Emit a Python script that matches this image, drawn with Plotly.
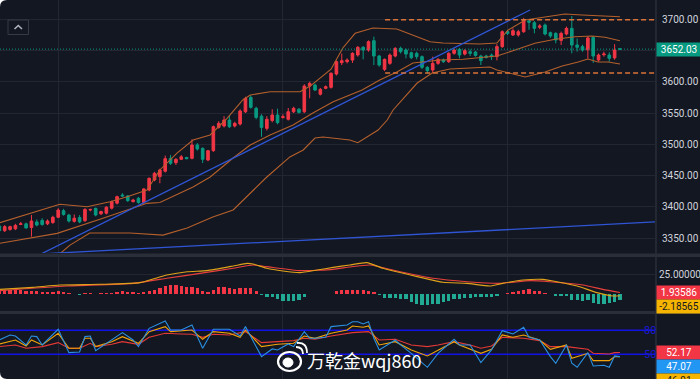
import plotly.graph_objects as go

# ---------------- data ----------------
candle_idx = list(range(-1, 116))
open_ = [3369.5, 3362, 3364, 3365, 3372, 3373, 3367, 3376, 3378.5, 3373, 3375, 3383.5, 3394, 3387, 3377, 3383, 3378, 3395, 3397.7, 3389,
         3390, 3398, 3406, 3419, 3417.5, 3408.5, 3413.8, 3407, 3427, 3443, 3448.4, 3457, 3477.6, 3470.7, 3476, 3479, 3477.6, 3499, 3493.6, 3474.9,
         3489.8, 3527, 3529.3, 3538.8, 3529.3, 3532.4, 3552, 3575, 3557.5, 3545, 3525.5, 3538, 3546.8, 3543, 3540, 3552, 3556, 3552, 3593.1, 3594.7,
         3580, 3589.4, 3591, 3612.3, 3630.4, 3632, 3634.6, 3642.6, 3654.9, 3650.6, 3665.5, 3641, 3619.7, 3629.3, 3641, 3653.3, 3650.6, 3646.3, 3645.3, 3640,
         3622.9, 3618.6, 3629.3, 3634.6, 3632, 3645.3, 3651.7, 3644.2, 3647.9, 3647.4, 3641, 3641, 3642.6, 3640, 3656, 3680, 3674.6, 3674.6, 3679.9, 3697,
         3694.3, 3687, 3690.5, 3678.3, 3677.2, 3666, 3676.2, 3685.2, 3658.6, 3656, 3651, 3670.8, 3634.6, 3643, 3642.6, 3638, 3652.5]
high_ = [3371, 3371, 3370, 3373, 3376, 3375, 3387, 3380, 3382, 3380, 3386, 3398, 3397, 3389, 3388, 3387, 3398, 3397, 3399, 3394,
         3401, 3410, 3418, 3422, 3419, 3413, 3416, 3430, 3447, 3456, 3461, 3482, 3483, 3478, 3483, 3480, 3508, 3502, 3495, 3491,
         3530, 3537, 3545, 3545, 3536, 3556, 3576, 3578, 3560, 3548, 3545, 3556, 3557, 3548, 3558, 3560, 3558, 3596, 3600, 3597,
         3590, 3594, 3615, 3634, 3645, 3637.3, 3647, 3657, 3657, 3666, 3672, 3643, 3637, 3645, 3655, 3656, 3653, 3648, 3648, 3642,
         3625, 3640, 3638, 3637, 3647, 3653, 3654, 3652, 3651.7, 3649, 3643, 3643, 3645, 3660, 3682, 3682.6, 3685.2, 3683, 3702, 3700,
         3697, 3692, 3693, 3680, 3679, 3680, 3688, 3704.9, 3669, 3659, 3673, 3673, 3645, 3648, 3647, 3660, 3653]
low_ = [3360, 3360, 3362, 3363, 3371, 3365, 3352.5, 3369, 3370, 3371, 3373, 3382, 3386, 3375, 3375, 3374, 3376, 3393, 3385, 3387,
        3388, 3396, 3404, 3416, 3408, 3407, 3405, 3405, 3425, 3441, 3437.7, 3455, 3467, 3467, 3475, 3476, 3476, 3490, 3470, 3473,
        3488, 3525, 3527, 3526, 3527, 3530, 3550, 3557, 3540, 3512, 3522, 3535, 3532, 3541, 3538, 3550, 3549, 3550, 3573.5, 3585,
        3578, 3588, 3589, 3610, 3626.6, 3629.3, 3630, 3640, 3635.7, 3648, 3626.6, 3624, 3617, 3627, 3639, 3645, 3637.3, 3636, 3635.7, 3620,
        3613.3, 3613.3, 3627, 3630, 3630, 3643, 3637.3, 3642, 3641, 3640, 3626.6, 3637, 3634.6, 3634, 3654, 3674.6, 3673, 3672, 3678, 3683,
        3677.2, 3684, 3674, 3670, 3661.3, 3658.6, 3674, 3645.3, 3648, 3648, 3637, 3630, 3632, 3640, 3632, 3635, 3651.5]
close_ = [3362, 3368.5, 3368.5, 3370.5, 3373, 3366.5, 3377.5, 3371, 3372, 3377.5, 3383.5, 3395, 3388, 3377.5, 3382, 3376, 3396, 3396, 3387, 3392.5,
          3399.5, 3408.5, 3416.4, 3417.5, 3410, 3411, 3407, 3428.7, 3445.7, 3453.7, 3459, 3477, 3469.6, 3476, 3480, 3477, 3498.9, 3492.5, 3476, 3489.8,
          3528.2, 3533.5, 3538.8, 3528.2, 3533.5, 3553.2, 3573.4, 3559, 3543, 3527, 3540, 3546.8, 3534.6, 3544, 3552, 3557.5, 3551, 3593.1, 3597.4, 3586.8,
          3587.8, 3592, 3613.4, 3632, 3633.6, 3634.6, 3645.3, 3654.9, 3650.6, 3663.9, 3641, 3626.6, 3635.7, 3642.6, 3653.3, 3648, 3644.2, 3638.4, 3640, 3622.9,
          3617.6, 3629.3, 3635.7, 3632, 3645.3, 3650.6, 3642.6, 3649.5, 3645.3, 3642, 3633.6, 3639, 3640, 3656, 3679.9, 3677.2, 3681.5, 3679.9, 3698.5, 3695,
          3685.2, 3689, 3676.2, 3673, 3666.6, 3677.2, 3685.2, 3658.6, 3654.9, 3650.6, 3670, 3641, 3642.6, 3644.2, 3637.3, 3650.6, 3652.03]

# Bollinger bands (vertices: candle index, price)
upper_idx = [-0.9, 10.3, 15.4, 19.7, 22.9, 26.6, 29.0, 32.2, 35.2, 38.4, 41.6, 44.5, 45.9, 49.6, 55.2, 57.1, 61.0, 63.2, 65.5, 68.8,
             73.3, 75.2, 79.5, 81.9, 88.8, 92.0, 94.1, 97.3, 101.0, 104.7, 107.9, 112.2, 115.0]
upper_px = [3374.8, 3404.2, 3400.3, 3408.3, 3416.3, 3427.0, 3459.0, 3486.0, 3506.9, 3514.9, 3542.0, 3570.8, 3578.8, 3584.0, 3584.0, 3593.0, 3620.0, 3653.8, 3677.3, 3685.8,
            3684.2, 3678.3, 3663.9, 3661.8, 3660.2, 3661.8, 3682.6, 3698.6, 3703.8, 3708.1, 3706.5, 3705.0, 3703.8]
mid_idx = [-0.9, 9.8, 17.8, 26.6, 29.0, 35.2, 38.4, 42.7, 45.9, 49.6, 53.9, 57.6, 61.4, 66.8, 70.1, 73.3, 76.3, 81.4, 85.7, 92.0,
           95.4, 99.1, 102.9, 106.6, 109.8, 112.2, 115.0]
mid_px = [3341.9, 3357.8, 3380.2, 3405.7, 3407.0, 3431.8, 3447.8, 3478.1, 3498.9, 3514.9, 3530.8, 3550.0, 3568.0, 3586.7, 3602.7, 3615.5, 3629.9, 3634.7, 3635.8, 3641.0,
          3650.6, 3661.3, 3667.7, 3671.9, 3673.0, 3670.9, 3665.5]
lower_idx = [8.5, 12.2, 15.9, 23.4, 29.6, 34.1, 38.9, 42.7, 49.0, 53.3, 55.8, 58.0, 59.5, 64.5, 66.0, 69.8, 71.5, 72.6, 77.1, 79.9,
             83.2, 90.7, 92.0, 94.4, 97.3, 101.0, 104.2, 107.2, 109.0, 110.9, 112.8, 115.0]
lower_px = [3312.0, 3339.0, 3358.3, 3358.3, 3355.0, 3366.3, 3383.9, 3395.1, 3447.8, 3479.8, 3491.0, 3510.1, 3511.7, 3506.9, 3502.6, 3522.8, 3538.8, 3554.8, 3597.9, 3613.9,
            3620.3, 3623.5, 3618.7, 3613.9, 3607.5, 3615.5, 3625.1, 3631.5, 3636.3, 3631.5, 3631.5, 3628.3]

# trend lines (candle index, price)
trend_fast_idx = [4.0, 98.2]
trend_fast_px = [3312.9, 3714.5]
trend_slow_idx = [5.0, 121.55]
trend_slow_px = [3324.2, 3376.0]

# horizontal levels
last_price = 3652.03
range_levels = [3699.0, 3614.0]
range_start_idx = 71.1

# MACD
macd_hist = [5, 5, 5, 5, 4.6, 4.2, 4.2, 3.3, 2.5, 2.1, 2.5, 3.75, 2.9, 1.25,
             0.4, -0.8, 0.8, 0.8, 0.4, 0.8, 1.25, 1.7, 2.9, 3.75,
             2.9, 2.1, 1.25, 2.5, 4.2, 5.4, 7.5, 10, 10.8, 10.8,
             9.6, 8.3, 8.3, 7.1, 4.2, 2.1, 5.4, 8.3, 8.75, 7.1,
             6.25, 7.1, 7.9, 7.5, 3.75, -1.25, -3.3, -4.2, -5.8, -8.3,
             -8.3, -8.3, -7.5, -3.3, 0.5, 0.5, 0.5, 0.5, 0.6, 3.3,
             5, 5, 5.4, 5.4, 5.4, 4.2, 2.1, -1.7, -5, -5,
             -5, -5.8, -6.7, -10, -12.5, -13.3, -14.2, -12.1, -12.1, -10,
             -9.2, -6.7, -5.8, -5.4, -5, -4.2, -4.2, -4.2, -3.75, -2.5,
             0.4, 0.8, 2.1, 3.3, 5.4, 6.25, 3.3, 3.3, 1.25, -0.4,
             -2.1, -2.1, -2.9, -7.1, -7.9, -9.2, -7.9, -11.25, -12.1, -12.1,
             -11.25, -10.4, -7.9]
dif_idx = [-0.9, 5.3, 10.3, 17.8, 25.3, 30.3, 34.1, 37.8, 42.7, 45.3, 46.4, 49.0, 52.0, 55.2, 58.4, 61.4, 64.5, 67.7, 70.7, 77.1,
           81.9, 86.4, 90.7, 93.1, 96.9, 100.6, 103.2, 107.0, 110.7, 113.7, 115.0]
dif_val = [5.8, 8.3, 11.2, 12.1, 14.2, 23.75, 27.9, 29.2, 35.0, 38.3, 37.5, 32.1, 28.75, 26.7, 30.0, 33.3, 36.25, 39.2, 32.1, 21.7,
           14.6, 13.3, 10.0, 13.3, 17.5, 18.3, 15.4, 10.0, 1.7, -2.5, -2.18565]
dea_idx = [-0.9, 11.6, 24.0, 30.3, 36.5, 42.7, 46.4, 49.0, 55.2, 61.4, 64.5, 68.3, 73.9, 80.1, 86.4, 92.6, 98.2, 101.9, 108.1, 111.8, 115.0]
dea_val = [4.2, 10.0, 13.3, 19.6, 25.8, 32.1, 36.25, 34.2, 29.2, 30.8, 33.8, 36.25, 27.9, 19.6, 15.4, 13.3, 16.7, 15.4, 11.25, 5.8, 1.93586]

# RSI-type lines
rsi_blue_idx = [-1, 1, 2, 4, 5, 6, 7, 10, 12, 14, 15, 16, 17, 20, 22, 24, 25, 27, 30, 31, 33, 35, 37, 39, 42, 44, 45, 48,
                50, 51, 53, 54, 56, 57, 58, 60, 61, 64, 65, 66, 67, 68, 69, 70, 73, 74, 76, 79, 81, 84, 85, 87, 89,
                91, 93, 95, 97, 98, 100, 102, 103, 105, 106, 107, 109, 110, 112, 113, 114, 115]
rsi_blue = [67.9, 74.2, 72.9, 61.7, 72.9, 72.1, 61.7, 81.25, 52.1, 52.9, 72.1, 72.9, 54.6, 67.9, 77.1, 67.9, 59.6, 82.5,
            91.7, 80.4, 80.4, 86.7, 57.5, 81.25, 81.25, 72.9, 84.6, 47.1, 56.7, 55.4, 62.9, 59.6, 78.3, 70.0, 70.0,
            71.25, 84.6, 86.7, 90.8, 90.8, 87.9, 90.8, 70.0, 55.4, 67.9, 61.7, 51.25, 33.75, 51.25, 68.75, 61.7, 61.7, 39.6,
            55.4, 79.6, 75.4, 83.75, 71.25, 67.9, 47.1, 38.75, 61.7, 38.75, 33.75, 52.1, 35.4, 36.25, 33.75, 47.9, 47.07]
rsi_yellow_idx = [-1, 2, 4, 5, 7, 10, 12, 14, 15, 16, 17, 20, 22, 25, 27, 30, 31, 35, 37, 39, 42, 44, 45, 48, 51, 54, 56, 58,
                  61, 64, 65, 67, 68, 70, 73, 76, 79, 81, 84, 85, 89, 91, 93, 95, 97, 100, 102, 105, 106, 109, 110, 113, 114, 115]
rsi_yellow = [62.9, 67.9, 60.4, 67.9, 61.7, 76.25, 57.5, 57.5, 70.0, 70.0, 59.6, 65.8, 72.1, 63.75, 78.3, 84.6, 78.3, 80.4,
              68.75, 78.3, 76.25, 71.25, 80.4, 59.6, 62.5, 63.75, 72.9, 70.0, 76.25, 80.4, 85.4, 83.75, 85.4, 61.7, 65.8,
              55.4, 47.9, 55.4, 65.8, 61.7, 51.25, 56.25, 74.2, 71.25, 74.2, 67.9, 56.25, 61.7, 45.0, 51.25, 42.1, 42.1, 47.1, 46.91]
rsi_red_idx = [-1, 2, 4, 7, 10, 12, 14, 16, 17, 20, 22, 25, 27, 30, 33, 35, 37, 39, 42, 45, 48, 51, 54, 56, 58, 61, 64, 65,
               68, 70, 73, 76, 79, 81, 84, 87, 89, 91, 93, 97, 100, 102, 105, 109, 110, 113, 114, 115]
rsi_red = [59.6, 61.7, 57.5, 59.6, 64.6, 57.5, 57.5, 63.75, 59.6, 62.5, 65.8, 62.5, 71.25, 76.25, 75.4, 75.0, 71.25, 75.0,
           74.2, 78.3, 64.6, 65.8, 67.1, 70.0, 68.75, 72.9, 76.5, 77.1, 78.3, 67.9, 68.75, 61.7, 59.6, 61.7, 65.8, 61.7,
           57.5, 60.4, 71.25, 70.0, 67.1, 59.6, 59.6, 56.25, 51.25, 50.4, 52.1, 52.17]
rsi_levels = [80, 50]

price_ticks = [3350, 3400, 3450, 3500, 3550, 3600, 3650, 3700]
price_ticktext = ["3350.00", "3400.00", "3450.00", "3500.00", "3550.00", "3600.00", "", "3700.00"]
vgrid_idx = [10, 52, 94]

# ---------------- styling / layout ----------------
W, H = 700, 379
PW = 655
BG = "#131722"
GRID = "#232632"
SEP = "#2a2e39"
UP = "#f23645"
DOWN = "#089981"
BAND = "#b5602c"
FONT = "Roboto, sans-serif"
FS = 10


def pxx(x):
    return x / PW


def pxy(y):
    return 1 - y / H


X_RANGE = [-0.88, 121.55]

fig = go.Figure()

fig.add_trace(go.Candlestick(
    x=candle_idx, open=open_, high=high_, low=low_, close=close_,
    increasing=dict(line=dict(color=UP, width=1), fillcolor=UP),
    decreasing=dict(line=dict(color=DOWN, width=1), fillcolor=DOWN),
    xaxis="x", yaxis="y", hoverinfo="skip", whiskerwidth=0))

for xi, yi in ((upper_idx, upper_px), (mid_idx, mid_px), (lower_idx, lower_px)):
    fig.add_trace(go.Scatter(x=xi, y=yi, mode="lines", line=dict(color=BAND, width=1.1),
                             xaxis="x", yaxis="y", hoverinfo="skip"))

for xi, yi in ((trend_fast_idx, trend_fast_px), (trend_slow_idx, trend_slow_px)):
    fig.add_trace(go.Scatter(x=xi, y=yi, mode="lines", line=dict(color="#2f55d4", width=1.3),
                             xaxis="x", yaxis="y", hoverinfo="skip"))

for lv in range_levels:
    fig.add_trace(go.Scatter(x=[range_start_idx, X_RANGE[1]], y=[lv, lv], mode="lines",
                             line=dict(color="#d9733a", width=1.4, dash="5px,3px"),
                             xaxis="x", yaxis="y", hoverinfo="skip"))

fig.add_trace(go.Scatter(x=[X_RANGE[0], X_RANGE[1]], y=[last_price, last_price], mode="lines",
                         line=dict(color=DOWN, width=1, dash="1px,2px"),
                         xaxis="x", yaxis="y", hoverinfo="skip"))

# MACD
fig.add_trace(go.Bar(x=candle_idx, y=macd_hist, width=0.62,
                     marker=dict(color=[UP if v >= 0 else "#22ab94" for v in macd_hist], line=dict(width=0)),
                     xaxis="x2", yaxis="y2", hoverinfo="skip"))
fig.add_trace(go.Scatter(x=dea_idx, y=dea_val, mode="lines", line=dict(color="#e8413b", width=1.1, shape="spline", smoothing=0.5),
                         xaxis="x2", yaxis="y2", hoverinfo="skip"))
fig.add_trace(go.Scatter(x=dif_idx, y=dif_val, mode="lines", line=dict(color="#e0a21a", width=1.1, shape="spline", smoothing=0.5),
                         xaxis="x2", yaxis="y2", hoverinfo="skip"))

# RSI panel
for lv in rsi_levels:
    fig.add_trace(go.Scatter(x=[X_RANGE[0], X_RANGE[1]], y=[lv, lv], mode="lines",
                             line=dict(color="#1212e8", width=1.5), xaxis="x3", yaxis="y3", hoverinfo="skip"))
fig.add_trace(go.Scatter(x=rsi_red_idx, y=rsi_red, mode="lines", line=dict(color="#e53935", width=1.1),
                         xaxis="x3", yaxis="y3", hoverinfo="skip"))
fig.add_trace(go.Scatter(x=rsi_yellow_idx, y=rsi_yellow, mode="lines", line=dict(color="#f0a30a", width=1.1),
                         xaxis="x3", yaxis="y3", hoverinfo="skip"))
fig.add_trace(go.Scatter(x=rsi_blue_idx, y=rsi_blue, mode="lines", line=dict(color="#2a8fe0", width=1.1),
                         xaxis="x3", yaxis="y3", hoverinfo="skip"))

xcommon = dict(range=X_RANGE, showticklabels=False, tickvals=vgrid_idx, showgrid=True, gridcolor=GRID,
               gridwidth=1, zeroline=False, showline=False, ticks="", domain=[0, 1], fixedrange=True)
tickfont = dict(family=FONT, size=FS, color="#d1d4dc")

fig.update_layout(
    width=W, height=H, margin=dict(l=0, r=W - PW, t=0, b=0),
    paper_bgcolor=BG, plot_bgcolor=BG, showlegend=False, bargap=0,
    xaxis=dict(**xcommon, anchor="y", rangeslider=dict(visible=False)),
    xaxis2=dict(**xcommon, anchor="y2"),
    xaxis3=dict(**xcommon, anchor="y3"),
    yaxis=dict(domain=[pxy(253), 1], range=[3326.4, 3730.5], side="right", anchor="x",
               tickvals=price_ticks, ticktext=price_ticktext, gridcolor=GRID, zeroline=False,
               showline=False, ticks="", ticklabelstandoff=6, tickfont=tickfont),
    yaxis2=dict(domain=[pxy(311), pxy(257)], range=[-21.25, 46.25], side="right", anchor="x2",
                tickvals=[25], ticktext=["25.00000"], gridcolor=GRID, zeroline=False,
                showline=False, ticks="", ticklabelstandoff=3, tickfont=tickfont),
    yaxis3=dict(domain=[0, pxy(314)], range=[19.1, 100.4], side="right", anchor="x3",
                showgrid=False, showticklabels=False, zeroline=False, showline=False),
)

shapes = []
# panel separators
for y0, y1 in ((253.5, 257), (311, 314)):
    shapes.append(dict(type="rect", xref="paper", yref="paper", x0=0, x1=W / PW, y0=pxy(y1), y1=pxy(y0),
                       fillcolor=SEP, line=dict(width=0), layer="above"))
shapes.append(dict(type="line", xref="paper", yref="paper", x0=1.0015, x1=1.0015, y0=0, y1=1,
                   line=dict(color=SEP, width=1.5), layer="above"))
# collapse button
shapes.append(dict(type="rect", xref="paper", yref="paper", x0=pxx(8), x1=pxx(28.5), y0=pxy(34.5), y1=pxy(20),
                   line=dict(color="#363a45", width=1), fillcolor=BG, layer="above"))
shapes.append(dict(type="path", xref="paper", yref="paper",
                   path=f"M {pxx(14.5)} {pxy(29)} L {pxx(18.3)} {pxy(25.5)} L {pxx(22)} {pxy(29)}",
                   line=dict(color="#b2b5be", width=1.5), layer="above"))
# rounded screenshot corners
shapes.append(dict(type="path", xref="paper", yref="paper",
                   path=f"M 0 1 L {pxx(7)} 1 Q 0 1 0 {pxy(7)} Z",
                   fillcolor="#ffffff", line=dict(width=0), layer="above"))
shapes.append(dict(type="path", xref="paper", yref="paper",
                   path=f"M 0 0 L {pxx(7)} 0 Q 0 0 0 {pxy(372)} Z",
                   fillcolor="#ffffff", line=dict(width=0), layer="above"))
# weibo-like logo
shapes.append(dict(type="circle", xref="paper", yref="paper", x0=pxx(278), x1=pxx(301), y0=pxy(371), y1=pxy(352),
                   line=dict(color="#ffffff", width=2.2), layer="above"))
shapes.append(dict(type="circle", xref="paper", yref="paper", x0=pxx(283), x1=pxx(293), y0=pxy(367), y1=pxy(358),
                   line=dict(color="#ffffff", width=1), fillcolor="#ffffff", layer="above"))
shapes.append(dict(type="path", xref="paper", yref="paper",
                   path=f"M {pxx(296)} {pxy(347)} Q {pxx(303)} {pxy(347)} {pxx(303)} {pxy(354)}",
                   line=dict(color="#ffffff", width=1.8), layer="above"))
shapes.append(dict(type="path", xref="paper", yref="paper",
                   path=f"M {pxx(297)} {pxy(343)} Q {pxx(307)} {pxy(342)} {pxx(307)} {pxy(353)}",
                   line=dict(color="#ffffff", width=1.8), layer="above"))
fig.update_layout(shapes=shapes)

ann = []


def box(text, y, yref, bg, fg):
    ann.append(dict(text=text, xref="paper", x=1, xanchor="left", xshift=1, yref=yref, y=y, yanchor="middle",
                    showarrow=False, bgcolor=bg, width=44, height=13, borderpad=0, align="center",
                    font=dict(family=FONT, size=FS, color=fg)))


box(f"{last_price:.2f}", last_price, "y", DOWN, "#ffffff")
box("1.93586", 1.93586, "y2", "#f23645", "#ffffff")
box("-2.18565", pxy(306.5), "paper", "#f5b400", "#131722")
box("52.17", 52.17, "y3", "#f23645", "#ffffff")
box("47.07", pxy(366), "paper", "#2196f3", "#ffffff")
box("46.91", pxy(380.5), "paper", "#f5b400", "#131722")
for lv in rsi_levels:
    ann.append(dict(text=str(lv), xref="paper", x=1, xanchor="right", xshift=3, yref="y3", y=lv,
                    yanchor="middle", showarrow=False, font=dict(family=FONT, size=11, color="#1a1ad0")))
ann.append(dict(text="万乾金wqj860", xref="paper", yref="paper", x=pxx(305), xanchor="left", y=pxy(360),
                yanchor="middle", showarrow=False,
                font=dict(family="Noto Sans CJK SC, sans-serif", size=18, color="#ffffff")))
fig.update_layout(annotations=ann)

fig.write_html("out.html", config={"displayModeBar": False, "staticPlot": True},
               post_script="document.body.style.margin='0';document.body.style.padding='0';")
